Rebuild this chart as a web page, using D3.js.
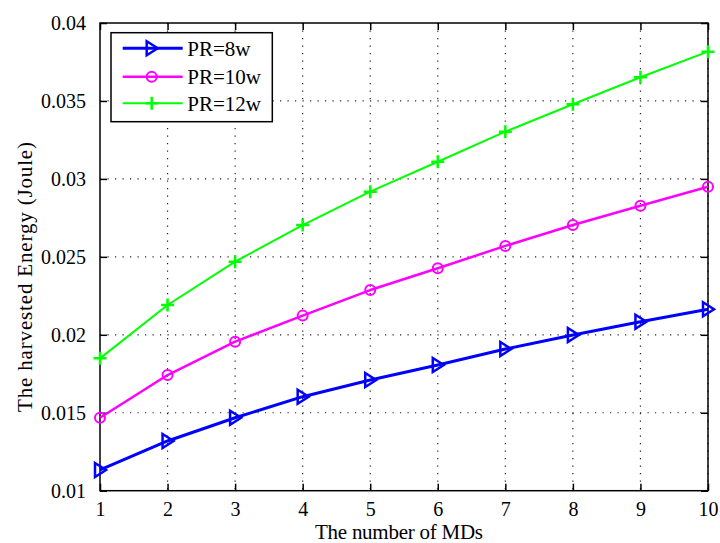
<!DOCTYPE html>
<html>
<head>
<meta charset="utf-8">
<script src="https://cdn.jsdelivr.net/npm/d3@7"></script>
<style>
  body { margin: 0; background: #fff; }
  svg text { font-family: "Liberation Serif", "Times New Roman", serif; fill: #000; }
</style>
</head>
<body>
<svg id="chart" width="720" height="543"></svg>
<script>
// data
var mds = [1, 2, 3, 4, 5, 6, 7, 8, 9, 10];
var pr8 = [0.01133, 0.01319, 0.01468, 0.01603, 0.0171, 0.01806, 0.01909, 0.01999, 0.02084, 0.02164];
var pr10 = [0.01468, 0.01742, 0.01956, 0.02123, 0.02287, 0.02427, 0.0257, 0.02704, 0.02828, 0.0295];
var pr12 = [0.01849, 0.02191, 0.02469, 0.02704, 0.02918, 0.0311, 0.03303, 0.03479, 0.03652, 0.03816];
var seriesNames = ["PR=8w", "PR=10w", "PR=12w"];
var xTicks = [1, 2, 3, 4, 5, 6, 7, 8, 9, 10];
var yTicks = [0.01, 0.015, 0.02, 0.025, 0.03, 0.035, 0.04];
var yTickLabels = ["0.01", "0.015", "0.02", "0.025", "0.03", "0.035", "0.04"];

var W = 720, H = 543;
var m = {left: 100, top: 23, right: 12, bottom: 52.3};
var svg = d3.select("#chart");

var x = d3.scaleLinear().domain([1, 10]).range([m.left, W - m.right]);
var y = d3.scaleLinear().domain([0.01, 0.04]).range([H - m.bottom, m.top]);

var styles = [
  {color: "#0000ff", width: 3, marker: "tri"},
  {color: "#ff00ff", width: 2.5, marker: "circle"},
  {color: "#00ff00", width: 2, marker: "plus"}
];
var series = [pr8, pr10, pr12];

// grid (dotted)
var grid = svg.append("g");
grid.selectAll(".gx").data(xTicks.slice(1)).enter().append("line")
  .attr("x1", d => x(d)).attr("x2", d => x(d))
  .attr("y1", y(0.04)).attr("y2", y(0.01))
  .attr("stroke", "#222").attr("stroke-width", 1.2).attr("stroke-dasharray", "1.2,6.3");
grid.selectAll(".gy").data(yTicks.slice(1, -1)).enter().append("line")
  .attr("x1", x(1)).attr("x2", x(10))
  .attr("y1", d => y(d)).attr("y2", d => y(d))
  .attr("stroke", "#222").attr("stroke-width", 1.2).attr("stroke-dasharray", "1.2,6.3");

// axes, ticks inside, mirrored top/right
var xAxis = d3.axisBottom(x).tickValues(xTicks).tickFormat(d3.format("d")).tickSizeInner(-7).tickSizeOuter(0).tickPadding(11);
var yAxis = d3.axisLeft(y).tickValues(yTicks).tickFormat((d, i) => yTickLabels[i]).tickSizeInner(-7).tickSizeOuter(0).tickPadding(14);

var gx = svg.append("g").attr("transform", "translate(0," + y(0.01) + ")").call(xAxis);
var gy = svg.append("g").attr("transform", "translate(" + x(1) + ",0)").call(yAxis);
var gxt = svg.append("g").attr("transform", "translate(0," + y(0.04) + ")")
  .call(d3.axisTop(x).tickValues(xTicks).tickFormat("").tickSizeInner(-7).tickSizeOuter(0));
var gyr = svg.append("g").attr("transform", "translate(" + x(10) + ",0)")
  .call(d3.axisRight(y).tickValues(yTicks).tickFormat("").tickSizeInner(-7).tickSizeOuter(0));

[gx, gy, gxt, gyr].forEach(function (g) {
  g.attr("font-family", null);
  g.select(".domain").remove();
  g.selectAll(".tick line").attr("stroke", "#000").attr("stroke-width", 1.5);
  g.selectAll("text").style("font-family", "Liberation Serif").style("font-size", "20px").attr("fill", "#000");
});
gx.selectAll("text").attr("dy", "0.71em");

svg.append("rect")
  .attr("x", x(1)).attr("y", y(0.04))
  .attr("width", x(10) - x(1)).attr("height", y(0.01) - y(0.04))
  .attr("fill", "none").attr("stroke", "#000").attr("stroke-width", 1.5);

// markers
function drawMarker(g, type, color) {
  if (type === "tri") {
    g.append("path").attr("d", "M-5,-7L6,0L-5,7Z")
      .attr("fill", "none").attr("stroke", color).attr("stroke-width", 2.5).attr("stroke-linejoin", "miter");
  } else if (type === "circle") {
    g.append("circle").attr("r", 5)
      .attr("fill", "none").attr("stroke", color).attr("stroke-width", 2);
  } else {
    g.append("path").attr("d", "M-6.5,0H6.5M0,-6.5V6.5")
      .attr("fill", "none").attr("stroke", color).attr("stroke-width", 2.5);
  }
}

var line = d3.line().x((d, i) => x(mds[i])).y(d => y(d));

series.forEach(function (vals, si) {
  var st = styles[si];
  svg.append("path")
    .attr("d", line(vals))
    .attr("fill", "none")
    .attr("stroke", st.color)
    .attr("stroke-width", st.width)
    .attr("stroke-linejoin", "round");
  vals.forEach(function (v, i) {
    var g = svg.append("g").attr("transform", "translate(" + x(mds[i]) + "," + y(v) + ")");
    drawMarker(g, st.marker, st.color);
  });
});

// legend
var lg = svg.append("g").attr("transform", "translate(111,32.7)");
lg.append("rect").attr("width", 161.3).attr("height", 89)
  .attr("fill", "#fff").attr("stroke", "#000").attr("stroke-width", 1.5);
var rowY = [15.6, 44, 70.6];
seriesNames.forEach(function (name, i) {
  var st = styles[i];
  lg.append("line").attr("x1", 11.7).attr("x2", 71.7).attr("y1", rowY[i]).attr("y2", rowY[i])
    .attr("stroke", st.color).attr("stroke-width", st.width);
  drawMarker(lg.append("g").attr("transform", "translate(40.7," + rowY[i] + ")"), st.marker, st.color);
  lg.append("text").attr("x", 76.3).attr("y", rowY[i]).attr("dy", "0.35em")
    .style("font-size", "21px").text(name);
});

// axis titles
svg.append("text")
  .attr("x", 399).attr("y", 539)
  .attr("text-anchor", "middle")
  .style("font-size", "21px")
  .attr("textLength", 168).attr("lengthAdjust", "spacing")
  .text("The number of MDs");

svg.append("text")
  .attr("transform", "translate(32,277) rotate(-90)")
  .attr("text-anchor", "middle")
  .style("font-size", "21px")
  .attr("textLength", 270).attr("lengthAdjust", "spacing")
  .text("The harvested Energy (Joule)");
</script>
</body>
</html>
